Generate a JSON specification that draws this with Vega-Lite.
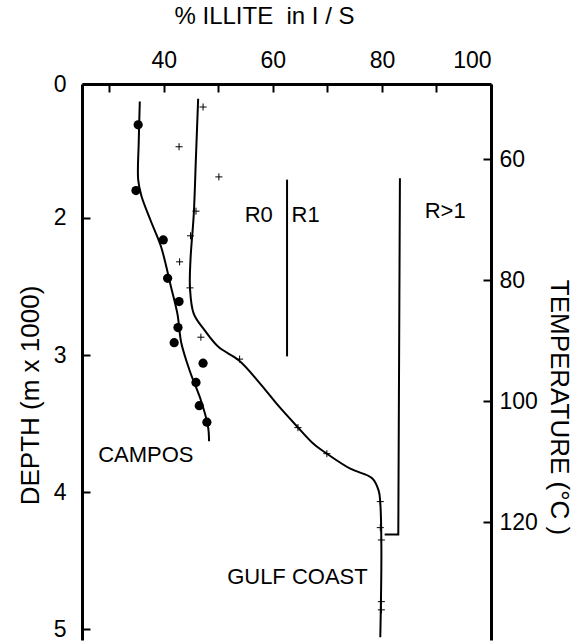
{
  "$schema": "https://vega.github.io/schema/vega-lite/v6.json",
  "autosize": {"type": "none"},
  "padding": {"left": 82, "top": 84, "right": 84, "bottom": 2},
  "width": 409,
  "height": 556,
  "background": "white",
  "config": {
    "font": "Liberation Sans",
    "view": {"stroke": null},
    "axis": {
      "domainColor": "black", "domainWidth": 3,
      "tickColor": "black", "tickWidth": 2, "tickSize": -8,
      "labelFont": "Liberation Sans", "labelFontSize": 23, "labelColor": "black",
      "titleFont": "Liberation Sans", "titleFontSize": 24, "titleFontWeight": "normal", "titleColor": "black",
      "grid": false
    }
  },
  "datasets": {
    "campos_pts": [
      {"v": 35.3, "d": 1.32}, {"v": 34.9, "d": 1.80}, {"v": 39.9, "d": 2.16}, {"v": 40.7, "d": 2.44},
      {"v": 42.8, "d": 2.61}, {"v": 42.6, "d": 2.80}, {"v": 41.9, "d": 2.91}, {"v": 47.2, "d": 3.06},
      {"v": 45.9, "d": 3.20}, {"v": 46.5, "d": 3.37}, {"v": 47.9, "d": 3.49}
    ],
    "gulf_pts": [
      {"v": 47.2, "d": 1.19}, {"v": 42.8, "d": 1.48}, {"v": 50.1, "d": 1.70}, {"v": 45.9, "d": 1.95},
      {"v": 44.9, "d": 2.13}, {"v": 42.9, "d": 2.32}, {"v": 44.8, "d": 2.51}, {"v": 46.8, "d": 2.87},
      {"v": 53.9, "d": 3.03}, {"v": 64.6, "d": 3.53}, {"v": 69.9, "d": 3.72}, {"v": 79.7, "d": 4.07},
      {"v": 79.7, "d": 4.26}, {"v": 79.9, "d": 4.35}, {"v": 79.9, "d": 4.80}, {"v": 79.9, "d": 4.86}
    ],
    "curves": [
      {"id": "campos", "i": 1, "v": 35.6, "d": 1.15},
      {"id": "campos", "i": 2, "v": 35.4, "d": 1.45},
      {"id": "campos", "i": 3, "v": 35.3, "d": 1.72},
      {"id": "campos", "i": 4, "v": 35.9, "d": 1.84},
      {"id": "campos", "i": 5, "v": 37.6, "d": 2.02},
      {"id": "campos", "i": 6, "v": 39.5, "d": 2.21},
      {"id": "campos", "i": 7, "v": 41.3, "d": 2.50},
      {"id": "campos", "i": 8, "v": 42.5, "d": 2.70},
      {"id": "campos", "i": 9, "v": 43.2, "d": 2.91},
      {"id": "campos", "i": 10, "v": 44.8, "d": 3.12},
      {"id": "campos", "i": 11, "v": 46.8, "d": 3.33},
      {"id": "campos", "i": 12, "v": 48.1, "d": 3.52},
      {"id": "campos", "i": 13, "v": 48.3, "d": 3.63},
      {"id": "gulf", "i": 1, "v": 46.3, "d": 1.13},
      {"id": "gulf", "i": 2, "v": 45.9, "d": 1.55},
      {"id": "gulf", "i": 3, "v": 45.5, "d": 1.97},
      {"id": "gulf", "i": 4, "v": 44.9, "d": 2.30},
      {"id": "gulf", "i": 5, "v": 44.8, "d": 2.51},
      {"id": "gulf", "i": 6, "v": 45.5, "d": 2.70},
      {"id": "gulf", "i": 7, "v": 47.5, "d": 2.82},
      {"id": "gulf", "i": 8, "v": 50.0, "d": 2.94},
      {"id": "gulf", "i": 9, "v": 53.8, "d": 3.04},
      {"id": "gulf", "i": 10, "v": 57.7, "d": 3.21},
      {"id": "gulf", "i": 11, "v": 61.0, "d": 3.37},
      {"id": "gulf", "i": 12, "v": 64.4, "d": 3.52},
      {"id": "gulf", "i": 13, "v": 67.5, "d": 3.65},
      {"id": "gulf", "i": 14, "v": 69.9, "d": 3.72},
      {"id": "gulf", "i": 15, "v": 74.2, "d": 3.83},
      {"id": "gulf", "i": 16, "v": 78.2, "d": 3.90},
      {"id": "gulf", "i": 17, "v": 79.4, "d": 3.99},
      {"id": "gulf", "i": 18, "v": 79.7, "d": 4.08},
      {"id": "gulf", "i": 19, "v": 79.9, "d": 4.42},
      {"id": "gulf", "i": 20, "v": 79.7, "d": 5.06}
    ],
    "bounds": [
      {"id": "r0r1", "i": 1, "v": 62.6, "d": 1.72},
      {"id": "r0r1", "i": 2, "v": 62.6, "d": 3.01},
      {"id": "r1r2", "i": 1, "v": 83.3, "d": 1.71},
      {"id": "r1r2", "i": 2, "v": 83.0, "d": 4.31},
      {"id": "r1r2", "i": 3, "v": 80.5, "d": 4.31}
    ],
    "labels": [
      {"text": "R0", "v": 57.4, "d": 1.98},
      {"text": "R1", "v": 66.0, "d": 1.98},
      {"text": "R>1", "v": 91.6, "d": 1.95},
      {"text": "CAMPOS", "v": 36.7, "d": 3.73},
      {"text": "GULF COAST", "v": 64.5, "d": 4.62}
    ],
    "temps": [{"t": 60}, {"t": 80}, {"t": 100}, {"t": 120}, {"t": 140}]
  },
  "resolve": {"scale": {"y": "independent"}, "axis": {"y": "independent"}},
  "layer": [
    {
      "encoding": {
        "x": {
          "field": "v", "type": "quantitative",
          "scale": {"domain": [25, 100], "nice": false, "zero": false},
          "axis": {
            "orient": "top", "title": "% ILLITE\u00a0\u00a0in I / S",
            "values": [30, 40, 50, 60, 70, 80, 90, 100],
            "labelExpr": "datum.value % 20 == 0 ? datum.label : ''",
            "labelPadding": 20, "titlePadding": 21, "titleX": 182
          }
        },
        "y": {
          "field": "d", "type": "quantitative",
          "scale": {"domain": [1.022, 5.08], "nice": false, "zero": false, "reverse": true},
          "axis": {
            "orient": "left", "title": "DEPTH (m x 1000)",
            "values": [1.022, 2, 3, 4, 5],
            "labelExpr": "datum.value < 1.5 ? '0' : datum.label",
            "labelPadding": 24, "titlePadding": 10, "titleFontSize": 26, "titleY": 311
          }
        }
      },
      "layer": [
        {
          "data": {"name": "curves"},
          "mark": {"type": "line", "color": "black", "strokeWidth": 2, "interpolate": "catmull-rom"},
          "encoding": {"detail": {"field": "id"}, "order": {"field": "i", "type": "quantitative"}}
        },
        {
          "data": {"name": "bounds"},
          "mark": {"type": "line", "color": "black", "strokeWidth": 2},
          "encoding": {"detail": {"field": "id"}, "order": {"field": "i", "type": "quantitative"}}
        },
        {
          "data": {"name": "campos_pts"},
          "mark": {"type": "point", "shape": "circle", "filled": true, "color": "black", "opacity": 1, "size": 85}
        },
        {
          "data": {"name": "gulf_pts"},
          "mark": {"type": "point", "shape": "M-1,0L1,0M0,-1L0,1", "filled": false, "color": "black", "opacity": 1, "size": 50, "strokeWidth": 1}
        },
        {
          "data": {"name": "labels"},
          "mark": {"type": "text", "font": "Liberation Sans", "fontSize": 22, "color": "black", "align": "center", "baseline": "middle"},
          "encoding": {"text": {"field": "text"}}
        }
      ]
    },
    {
      "data": {"name": "temps"},
      "mark": {"type": "point", "opacity": 0},
      "encoding": {
        "y": {
          "field": "t", "type": "quantitative",
          "scale": {"domain": [47.6, 139.5], "nice": false, "zero": false, "reverse": true},
          "axis": {
            "orient": "right", "title": "TEMPERATURE (°C )",
            "values": [60, 80, 100, 120, 140],
            "labelPadding": 16, "titlePadding": 8, "titleFontSize": 26, "titleY": 323
          }
        }
      }
    }
  ]
}
